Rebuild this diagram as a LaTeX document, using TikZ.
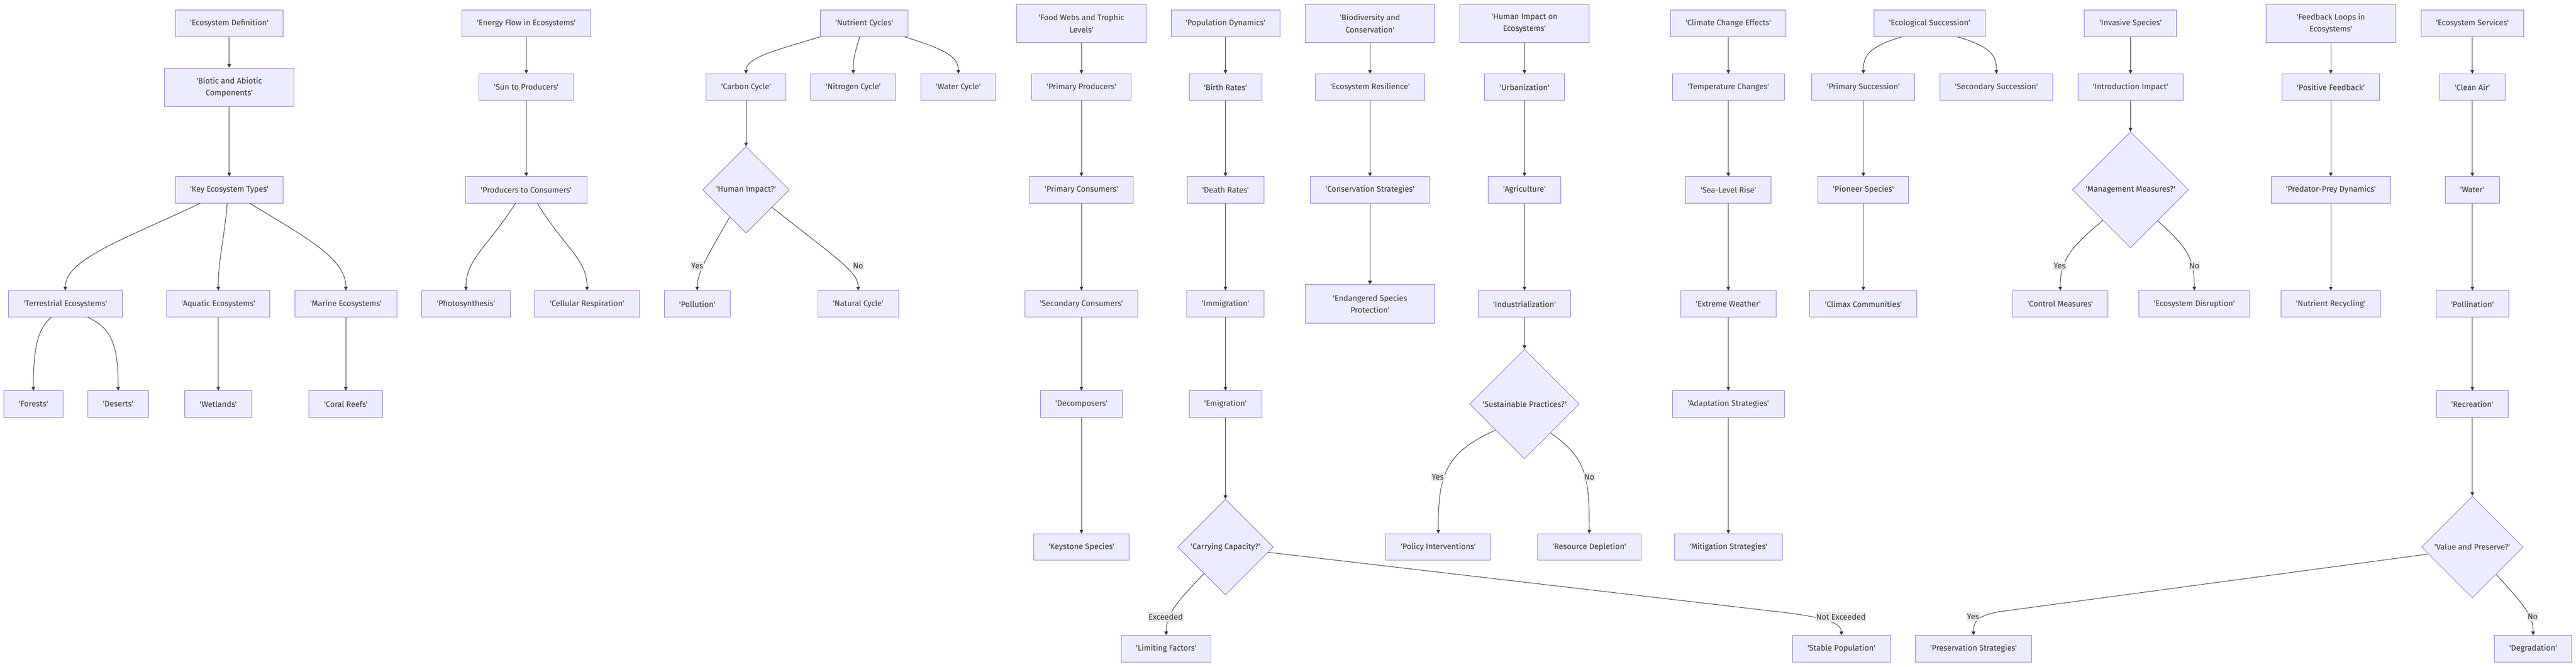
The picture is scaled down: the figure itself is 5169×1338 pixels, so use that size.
\documentclass[tikz,border=0pt]{standalone}
\usepackage{fontspec}
\setmainfont{Fira Sans}[Ligatures=TeXOff]
\usetikzlibrary{arrows.meta,shapes.geometric,calc}
\definecolor{boxfill}{HTML}{ECECFF}
\definecolor{boxline}{HTML}{9370DB}
\definecolor{edgecol}{HTML}{333333}
\definecolor{lblfill}{HTML}{E8E8E8}
\definecolor{txt}{HTML}{333333}
\tikzset{
  box/.style={draw=boxline, fill=boxfill, line width=0.75pt, text=txt,
    font=\fontsize{12}{18}\selectfont, inner xsep=3pt, inner ysep=0pt,
    minimum height=39.75pt, align=center},
  tall/.style={minimum height=57.75pt},
  wd/.style={minimum width={#1*0.75pt}},
  dia/.style={box, diamond, aspect=1, inner sep=0pt, minimum size={#1*0.75pt}},
  arr/.style={draw=edgecol, line width=0.75pt, -{Triangle[length=5.5pt,width=5.5pt]}},
  lbl/.style={fill=lblfill, text=txt, font=\fontsize{12}{18}\selectfont, inner xsep=1pt, inner ysep=2.5pt}
}
\begin{document}
\begin{tikzpicture}[x=0.75pt, y=-0.75pt]
\fill[white] (0,0) rectangle (5169,1338);
\useasboundingbox (0,0) rectangle (5169,1338);

% Column A
\node[box,wd=217] (A1) at (460,47) {'Ecosystem Definition'};
\node[box,tall,wd=260] (A2) at (460,175) {'Biotic and Abiotic\\Components'};
\node[box,wd=217] (A3) at (460,381) {'Key Ecosystem Types'};
\node[box,wd=228] (A4) at (131,610) {'Terrestrial Ecosystems'};
\node[box,wd=207] (A5) at (438,610) {'Aquatic Ecosystems'};
\node[box,wd=204] (A6) at (694,610) {'Marine Ecosystems'};
\node[box,wd=119] (A7) at (67,811) {'Forests'};
\node[box,wd=122] (A8) at (237,811) {'Deserts'};
\node[box,wd=134] (A9) at (438,811) {'Wetlands'};
\node[box,wd=148] (A10) at (694,811) {'Coral Reefs'};

% Column B
\node[box,wd=258] (B1) at (1056,47) {'Energy Flow in Ecosystems'};
\node[box,wd=190] (B2) at (1056,175) {'Sun to Producers'};
\node[box,wd=243] (B3) at (1056,381) {'Producers to Consumers'};
\node[box,wd=177] (B4) at (935,610) {'Photosynthesis'};
\node[box,wd=210] (B5) at (1178,610) {'Cellular Respiration'};

% Column C
\node[box,wd=176] (C1) at (1734,47) {'Nutrient Cycles'};
\node[box,wd=160] (C2) at (1497,175) {'Carbon Cycle'};
\node[box,wd=171] (C3) at (1712,175) {'Nitrogen Cycle'};
\node[box,wd=150] (C4) at (1923,175) {'Water Cycle'};
\node[dia=174] (C5) at (1497,381) {'Human Impact?'};
\node[box,wd=132] (C6) at (1399,610) {'Pollution'};
\node[box,wd=162] (C7) at (1722,610) {'Natural Cycle'};

% Column D
\node[box,tall,wd=259] (D1) at (2170,47) {'Food Webs and Trophic\\Levels'};
\node[box,wd=199] (D2) at (2170,175) {'Primary Producers'};
\node[box,wd=207] (D3) at (2170,381) {'Primary Consumers'};
\node[box,wd=226] (D4) at (2170,610) {'Secondary Consumers'};
\node[box,wd=165] (D5) at (2170,811) {'Decomposers'};
\node[box,wd=192] (D6) at (2170,1098) {'Keystone Species'};

% Column E
\node[box,wd=218] (E1) at (2459,47) {'Population Dynamics'};
\node[box,wd=146] (E2) at (2459,175) {'Birth Rates'};
\node[box,wd=154] (E3) at (2459,381) {'Death Rates'};
\node[box,wd=155] (E4) at (2459,610) {'Immigration'};
\node[box,wd=146] (E5) at (2459,811) {'Emigration'};
\node[dia=192] (E6) at (2459,1098) {'Carrying Capacity?'};
\node[box,wd=180] (E7) at (2340,1302) {'Limiting Factors'};
\node[box,wd=196] (E8) at (3695,1302) {'Stable Population'};

% Column F
\node[box,tall,wd=260] (F1) at (2749,47) {'Biodiversity and\\Conservation'};
\node[box,wd=219] (F2) at (2749,175) {'Ecosystem Resilience'};
\node[box,wd=239] (F3) at (2749,381) {'Conservation Strategies'};
\node[box,tall,wd=260] (F4) at (2749,610) {'Endangered Species\\Protection'};

% Column G
\node[box,tall,wd=260] (G1) at (3059,47) {'Human Impact on\\Ecosystems'};
\node[box,wd=160] (G2) at (3059,175) {'Urbanization'};
\node[box,wd=145] (G3) at (3059,381) {'Agriculture'};
\node[box,wd=186] (G4) at (3059,610) {'Industrialization'};
\node[dia=220] (G5) at (3059,811) {'Sustainable Practices?'};
\node[box,wd=211] (G6) at (2886,1098) {'Policy Interventions'};
\node[box,wd=208] (G7) at (3189,1098) {'Resource Depletion'};

% Column H
\node[box,wd=232] (H1) at (3468,47) {'Climate Change Effects'};
\node[box,wd=224] (H2) at (3468,175) {'Temperature Changes'};
\node[box,wd=172] (H3) at (3468,381) {'Sea-Level Rise'};
\node[box,wd=191] (H4) at (3468,610) {'Extreme Weather'};
\node[box,wd=224] (H5) at (3468,811) {'Adaptation Strategies'};
\node[box,wd=216] (H6) at (3468,1098) {'Mitigation Strategies'};

% Column I
\node[box,wd=224] (I1) at (3872,47) {'Ecological Succession'};
\node[box,wd=207] (I2) at (3739,175) {'Primary Succession'};
\node[box,wd=227] (I3) at (4006,175) {'Secondary Succession'};
\node[box,wd=182] (I4) at (3739,381) {'Pioneer Species'};
\node[box,wd=215] (I5) at (3739,610) {'Climax Communities'};

% Column J
\node[box,wd=185] (J1) at (4275,47) {'Invasive Species'};
\node[box,wd=211] (J2) at (4275,175) {'Introduction Impact'};
\node[dia=233] (J3) at (4275,381) {'Management Measures?'};
\node[box,wd=192] (J4) at (4134,610) {'Control Measures'};
\node[box,wd=223] (J5) at (4403,610) {'Ecosystem Disruption'};

% Column K
\node[box,tall,wd=259] (K1) at (4677,47) {'Feedback Loops in\\Ecosystems'};
\node[box,wd=196] (K2) at (4677,175) {'Positive Feedback'};
\node[box,wd=240] (K3) at (4677,381) {'Predator-Prey Dynamics'};
\node[box,wd=199] (K4) at (4677,610) {'Nutrient Recycling'};

% Column L
\node[box,wd=205] (L1) at (4961,47) {'Ecosystem Services'};
\node[box,wd=131] (L2) at (4961,175) {'Clean Air'};
\node[box,wd=108] (L3) at (4961,381) {'Water'};
\node[box,wd=146] (L4) at (4961,610) {'Pollination'};
\node[box,wd=144] (L5) at (4961,811) {'Recreation'};
\node[dia=204] (L6) at (4961,1098) {'Value and Preserve?'};
\node[box,wd=234] (L7) at (3960,1302) {'Preservation Strategies'};
\node[box,wd=155] (L8) at (5083,1302) {'Degradation'};

% straight edges
\draw[arr] (A1) -- (A2);
\draw[arr] (A2) -- (A3);
\draw[arr] (A5) -- (A9);
\draw[arr] (A6) -- (A10);
\draw[arr] (B1) -- (B2);
\draw[arr] (B2) -- (B3);
\draw[arr] (C2) -- (C5);
\draw[arr] (D1) -- (D2);
\draw[arr] (D2) -- (D3);
\draw[arr] (D3) -- (D4);
\draw[arr] (D4) -- (D5);
\draw[arr] (D5) -- (D6);
\draw[arr] (E1) -- (E2);
\draw[arr] (E2) -- (E3);
\draw[arr] (E3) -- (E4);
\draw[arr] (E4) -- (E5);
\draw[arr] (E5) -- (E6);
\draw[arr] (F1) -- (F2);
\draw[arr] (F2) -- (F3);
\draw[arr] (F3) -- (F4);
\draw[arr] (G1) -- (G2);
\draw[arr] (G2) -- (G3);
\draw[arr] (G3) -- (G4);
\draw[arr] (G4) -- (G5);
\draw[arr] (H1) -- (H2);
\draw[arr] (H2) -- (H3);
\draw[arr] (H3) -- (H4);
\draw[arr] (H4) -- (H5);
\draw[arr] (H5) -- (H6);
\draw[arr] (I2) -- (I4);
\draw[arr] (I4) -- (I5);
\draw[arr] (J1) -- (J2);
\draw[arr] (J2) -- (J3);
\draw[arr] (K1) -- (K2);
\draw[arr] (K2) -- (K3);
\draw[arr] (K3) -- (K4);
\draw[arr] (L1) -- (L2);
\draw[arr] (L2) -- (L3);
\draw[arr] (L3) -- (L4);
\draw[arr] (L4) -- (L5);
\draw[arr] (L5) -- (L6);

% curved edges
\draw[arr] ($(A3.south)+(-58,0)$) .. controls (250,480) and (131,520) .. (A4.north);
\draw[arr] ($(A3.south)+(-4,0)$) .. controls (450,480) and (438,520) .. (A5.north);
\draw[arr] ($(A3.south)+(41,0)$) .. controls (620,480) and (694,520) .. (A6.north);
\draw[arr] ($(A4.south)+(-28,0)$) .. controls (75,660) and (67,700) .. (A7.north);
\draw[arr] ($(A4.south)+(45,0)$) .. controls (228,660) and (237,700) .. (A8.north);

\draw[arr] ($(B3.south)+(-21.5,0)$) .. controls (975,500) and (935,520) .. (B4.north);
\draw[arr] ($(B3.south)+(22,0)$) .. controls (1135,500) and (1178,520) .. (B5.north);

\draw[arr] (C1.south west) .. controls (1560,100) and (1497,115) .. (C2.north);
\draw[arr] ($(C1.south)+(-9,0)$) .. controls (1716,105) and (1712,115) .. (C3.north);
\draw[arr] ($(C1.south)+(81,0)$) .. controls (1900,100) and (1923,115) .. (C4.north);
\draw[arr] (C5.-121) .. controls (1425,505) and (1399,545) .. (C6.north);
\draw[arr] (C5.-34) .. controls (1680,520) and (1722,545) .. (C7.north);

\draw[arr] (E6.-129.5) .. controls (2365,1205) and (2340,1230) .. (E7.north);
\draw[arr] (E6.-7) -- (3560,1227) .. controls (3660,1238) and (3695,1250) .. (E8.north);

\draw[arr] (G5.-138) .. controls (2895,910) and (2886,960) .. (G6.north);
\draw[arr] (G5.-48) .. controls (3185,920) and (3189,960) .. (G7.north);

\draw[arr] ($(I1.south)+(-56,0)$) .. controls (3745,95) and (3739,115) .. (I2.north);
\draw[arr] ($(I1.south)+(56,0)$) .. controls (4000,95) and (4006,115) .. (I3.north);

\draw[arr] (J3.-132) .. controls (4150,500) and (4134,525) .. (J4.north);
\draw[arr] (J3.-49) .. controls (4395,500) and (4403,525) .. (J5.north);

\draw[arr] (L6.-171) -- (4010,1228) .. controls (3970,1236) and (3960,1245) .. (L7.north);
\draw[arr] (L6.-49) .. controls (5065,1215) and (5083,1235) .. (L8.north);

% edge labels
\node[lbl] (y1) at (1399,534) {Yes};
\node[lbl] (n1) at (1722,534) {No};
\node[lbl] (x1) at (2339,1238) {Exceeded};
\node[lbl] (x2) at (3694,1238) {Not Exceeded};
\node[lbl] (y2) at (2885,958) {Yes};
\node[lbl] (n2) at (3189,958) {No};
\node[lbl] (y3) at (4133,534) {Yes};
\node[lbl] (n3) at (4403,534) {No};
\node[lbl] (y4) at (3959,1238) {Yes};
\node[lbl] (n4) at (5082,1238) {No};
\end{tikzpicture}
\end{document}
